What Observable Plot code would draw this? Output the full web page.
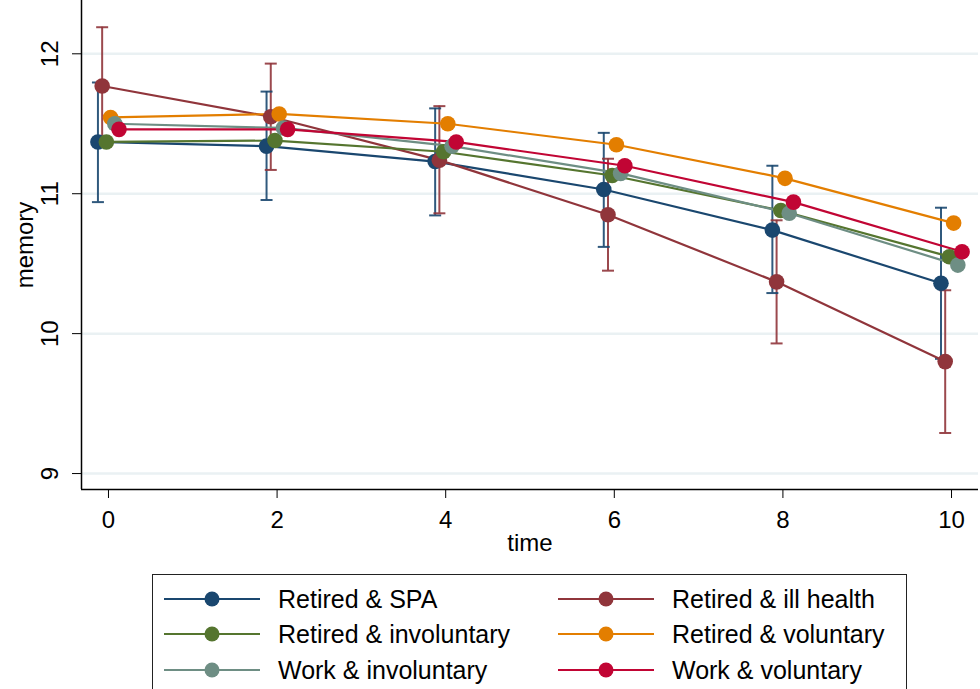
<!DOCTYPE html>
<html><head><meta charset="utf-8">
<script src="https://cdn.jsdelivr.net/npm/d3@7"></script>
<script src="https://cdn.jsdelivr.net/npm/@observablehq/plot@0.6"></script>
<style>
body{margin:0;background:#fff;font-family:"Liberation Sans",Arial,sans-serif;}
#wrap{position:relative;width:980px;height:689px;overflow:hidden;background:#fff;}
#legend{position:absolute;left:152px;top:574px;width:755px;height:140px;border:1.3px solid #222;box-sizing:border-box;background:#fff;}
</style></head><body>
<div id="wrap"><div id="chart"></div><div id="legend"></div></div>
<script>
// ---- data ----
const times = [0, 2, 4, 6, 8, 10];
const seriesNames = ["Retired & SPA", "Retired & ill health", "Retired & involuntary", "Retired & voluntary", "Work & involuntary", "Work & voluntary"];
const seriesColors = ["#1a476f", "#90353b", "#55752f", "#e37e00", "#6e8e84", "#c10534"];
const retiredSPA = [11.37, 11.34, 11.23, 11.03, 10.74, 10.36];
const retiredSPALow = [10.94, 10.955, 10.845, 10.62, 10.29, 9.82];
const retiredSPAHigh = [11.795, 11.73, 11.61, 11.435, 11.20, 10.90];
const retiredIll = [11.77, 11.55, 11.24, 10.85, 10.37, 9.80];
const retiredIllLow = [11.35, 11.17, 10.86, 10.45, 9.93, 9.29];
const retiredIllHigh = [12.19, 11.93, 11.626, 11.25, 10.81, 10.31];
const retiredInvol = [11.37, 11.38, 11.30, 11.13, 10.88, 10.55];
const retiredVol = [11.545, 11.57, 11.50, 11.35, 11.11, 10.79];
const workInvol = [11.50, 11.47, 11.34, 11.145, 10.86, 10.49];
const workVol = [11.46, 11.46, 11.37, 11.20, 10.94, 10.585];
const xTicks = [0, 2, 4, 6, 8, 10];
const yTicks = [9, 10, 11, 12];

const seriesValues = [retiredSPA, retiredIll, retiredInvol, retiredVol, workInvol, workVol];
const seriesLow = [retiredSPALow, retiredIllLow, null, null, null, null];
const seriesHigh = [retiredSPAHigh, retiredIllHigh, null, null, null, null];

// dodge offset by series index
const dodge = i => (i - 2.5) * 0.05;

const pts = [];
const cis = [];
seriesNames.forEach((name, i) => {
  times.forEach((t, j) => {
    pts.push({series: name, idx: i, x: t + dodge(i), y: seriesValues[i][j]});
    if (seriesLow[i]) cis.push({series: name, idx: i, x: t + dodge(i), lo: seriesLow[i][j], hi: seriesHigh[i][j]});
  });
});

const capSymbol = {draw(ctx, size) { const h = Math.sqrt(size / Math.PI); ctx.moveTo(-h, 0); ctx.lineTo(h, 0); }};
const xDomain = [-0.32, 10.32];
const yDomain = [8.886, 12.381];
const color = {domain: seriesNames, range: seriesColors};

const chart = Plot.plot({
  width: 980, height: 565,
  marginLeft: 81, marginRight: 2, marginTop: 0, marginBottom: 76,
  style: {fontFamily: '"Liberation Sans", Arial, sans-serif', background: "#fff", color: "#000"},
  x: {domain: xDomain, axis: null},
  y: {domain: yDomain, axis: null},
  color,
  marks: [
    Plot.gridY(yTicks, {stroke: "#eaf1f3", strokeOpacity: 1, strokeWidth: 2.5}),
    Plot.ruleX([xDomain[0]], {stroke: "#000", strokeWidth: 1.5}),
    Plot.ruleY([yDomain[0]], {stroke: "#000", strokeWidth: 1.5}),
    Plot.axisX({ticks: xTicks, tickSize: 9, tickPadding: 12, fontSize: 24, label: null, stroke: "#000"}),
    Plot.axisY({ticks: yTicks, tickSize: 9, tickFormat: () => "", label: null, stroke: "#000"}),
    Plot.text(yTicks, {y: d => d, text: d => String(d), frameAnchor: "left", textAnchor: "middle", dx: -31, rotate: -90, fontSize: 24, fill: "#000"}),
    Plot.text(["memory"], {frameAnchor: "left", textAnchor: "middle", dx: -56, rotate: -90, fontSize: 24, fill: "#000"}),
    Plot.text(["time"], {frameAnchor: "bottom", dy: 61, fontSize: 24, fill: "#000"}),
    Plot.ruleX(cis, {x: "x", y1: "lo", y2: "hi", stroke: "series", strokeWidth: 2, strokeOpacity: 0.9}),
    Plot.dot(cis, {x: "x", y: "lo", symbol: capSymbol, r: 6, stroke: "series", strokeWidth: 2, fill: "none", strokeOpacity: 0.9}),
    Plot.dot(cis, {x: "x", y: "hi", symbol: capSymbol, r: 6, stroke: "series", strokeWidth: 2, fill: "none", strokeOpacity: 0.9}),
    Plot.line(pts, {x: "x", y: "y", z: "series", stroke: "series", strokeWidth: 2.2}),
    Plot.dot(pts, {x: "x", y: "y", fill: "series", r: 7.8, stroke: "none"})
  ]
});
document.getElementById("chart").appendChild(chart);

// ---- legend ----
const lg = d3.select("#legend").append("svg").attr("width", 755).attr("height", 140)
  .style("font-family", '"Liberation Sans", Arial, sans-serif');
const rowY = [24, 59, 95];
const colX = [11, 405];
seriesNames.forEach((name, i) => {
  const r = Math.floor(i / 2), c = i % 2;
  const g = lg.append("g").attr("transform", `translate(${colX[c]},${rowY[r]})`);
  g.append("line").attr("x1", 0).attr("x2", 96).attr("y1", 0).attr("y2", 0).attr("stroke", seriesColors[i]).attr("stroke-width", 2.2);
  g.append("circle").attr("cx", 48).attr("cy", 0).attr("r", 7.5).attr("fill", seriesColors[i]);
  g.append("text").attr("x", 114).attr("y", 0).attr("dy", "0.35em").attr("font-size", 25).attr("fill", "#000").text(name);
});
</script>
</body></html>
